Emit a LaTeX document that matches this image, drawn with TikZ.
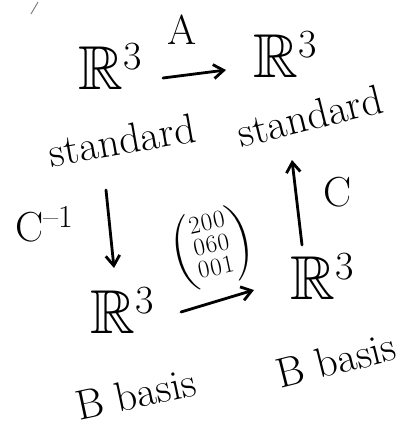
\documentclass[tikz,border=0pt]{standalone}
\usepackage{amsmath,amssymb}
\usetikzlibrary{arrows.meta,positioning}
\tikzset{
  sp/.style={inner sep=1pt,font=\fontsize{62}{66}\selectfont},
  wrd/.style={inner sep=1pt,font=\fontsize{42}{46}\selectfont},
  lbl/.style={inner sep=1pt,font=\fontsize{42}{46}\selectfont},
  arr/.style={-{Straight Barb[length=10pt,width=14pt]},line width=2.8pt,line cap=round},
}
\newcommand{\Rthree}{$\mathbb{R}$\raisebox{20pt}{\fontsize{40}{40}\selectfont 3}}
\begin{document}
\begin{tikzpicture}[x=1pt,y=-1pt,line width=2.8pt]
 \useasboundingbox (0,0) rectangle (412,428);
 % spaces
 \node[sp] (tl) at (110,66) {\Rthree};
 \node[sp] (tr) at (285,54) {\Rthree};
 \node[sp] (bl) at (122,310) {\Rthree};
 \node[sp] (br) at (322,276) {\Rthree};
 % bases
 \node[wrd,rotate=10] (stl) at (122,140) {standard};
 \node[wrd,rotate=14] (str) at (310,116) {standard};
 \node[wrd,rotate=12] (bbl) at (136,394) {B basis};
 \node[wrd,rotate=14] (bbr) at (336,360) {B basis};
 % maps
 \coordinate (a1) at (163,78); \coordinate (a2) at (226,70);
 \coordinate (d1) at (106,190); \coordinate (d2) at (114,268);
 \coordinate (u1) at (302,245); \coordinate (u2) at (292,160);
 \coordinate (m1) at (181,312); \coordinate (m2) at (254,290);
 \draw[arr] (a1) -- (a2);
 \draw[arr] (d1) -- (d2);
 \draw[arr] (u1) -- (u2);
 \draw[arr] (m1) -- (m2);
 \node[lbl] (A) at (182,30) {A};
 \node[lbl] (C) at (338,192) {C};
 \node[lbl] (Ci) at (44,224) {C\raisebox{14pt}{\fontsize{32}{32}\selectfont --1}};
 \node[inner sep=0pt,rotate=12,font=\fontsize{32}{32}\selectfont] (M) at (212,248)
   {$\setlength\arraycolsep{0.5pt}\renewcommand\arraystretch{0.7}\left(\begin{array}{ccc}2&0&0\\0&6&0\\0&0&1\end{array}\right)$};
 % pen mark
 \coordinate (p1) at (31,14); \coordinate (p2) at (38,2);
 \draw[line width=1pt,gray] (p1) -- (p2);
\end{tikzpicture}
\end{document}
